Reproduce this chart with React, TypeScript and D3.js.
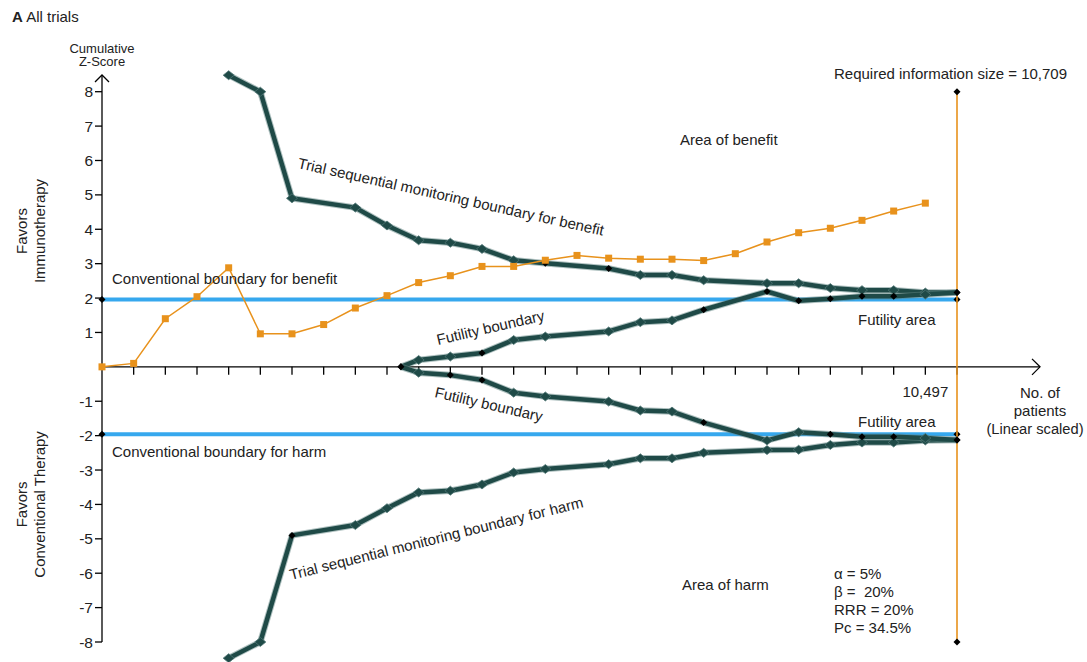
import React from "react";
import * as d3 from "d3";

// ---------- data ----------
const zPositions = [0, 1, 2, 3, 4, 5, 6, 7, 8, 9, 10, 11, 12, 13, 14, 15, 16, 17, 18, 19, 20, 21, 22, 23, 24, 25, 26];
const zValues = [0, 0.1, 1.4, 2.04, 2.88, 0.96, 0.96, 1.23, 1.71, 2.07, 2.45, 2.65, 2.92, 2.92, 3.1, 3.24, 3.16, 3.13, 3.13, 3.09, 3.29, 3.63, 3.9, 4.03, 4.26, 4.53, 4.76];

const boundaryPositions = [4, 5, 6, 8, 9, 10, 11, 12, 13, 14, 16, 17, 18, 19, 21, 22, 23, 24, 25, 26, 27];
const benefitBoundary = [8.48, 8.0, 4.9, 4.63, 4.11, 3.68, 3.61, 3.43, 3.1, 3.01, 2.86, 2.67, 2.67, 2.52, 2.43, 2.43, 2.29, 2.23, 2.23, 2.16, 2.16];
const harmBoundary = [-8.47, -8.0, -4.9, -4.6, -4.11, -3.65, -3.6, -3.42, -3.07, -2.97, -2.83, -2.66, -2.66, -2.5, -2.42, -2.41, -2.27, -2.2, -2.2, -2.14, -2.13];

const futilityPositions = [9.44, 10, 11, 12, 13, 14, 16, 17, 18, 19, 21, 22, 23, 24, 25, 26, 27];
const futilityUpper = [0, 0.2, 0.3, 0.4, 0.78, 0.88, 1.03, 1.3, 1.35, 1.66, 2.19, 1.92, 1.98, 2.05, 2.05, 2.1, 2.16];
const futilityLower = [0, -0.17, -0.24, -0.38, -0.75, -0.86, -1.01, -1.27, -1.3, -1.62, -2.14, -1.9, -1.96, -2.03, -2.03, -2.07, -2.13];

// indices (into each series) drawn with the small black marker
const benefitSmall = [9, 10, 20];
const harmSmall = [2, 20];
const futUpperSmall = [0, 3, 9, 10, 11, 12, 13, 14, 16];
const futLowerSmall = [0, 2, 3, 9, 12, 13, 14, 16];

const conventionalZ = 1.96;
const requiredPosition = 27;
const yTicks = [8, 7, 6, 5, 4, 3, 2, 1, -1, -2, -3, -4, -5, -6, -7, -8];
const xTickPositions = d3.range(1, 28);
const paramLines = ["α = 5%", "β =  20%", "RRR = 20%", "Pc = 34.5%"];

// ---------- layout ----------
const W = 1087;
const H = 662;
const x = d3.scaleLinear().domain([0, 27]).range([102, 957]);
const y = d3.scaleLinear().domain([-8, 8]).range([642, 91.7]);

const DARK = "#1f4a47";
const ORANGE = "#e8921c";
const BLUE = "#36a8ee";
const TEXT = "#222";
const FONT = "'Liberation Sans', Arial, sans-serif";
const FS = 15;

const line = d3.line<[number, number]>().x((d) => x(d[0])).y((d) => y(d[1]));

function zip(p: number[], v: number[]): [number, number][] {
  return p.map((pp, i) => [pp, v[i]]);
}

function diamond(cx: number, cy: number, w: number, h: number) {
  return `M${cx},${cy - h / 2}L${cx + w / 2},${cy}L${cx},${cy + h / 2}L${cx - w / 2},${cy}Z`;
}

function Boundary({ pos, vals, small }: { pos: number[]; vals: number[]; small: number[] }) {
  const pts = zip(pos, vals);
  return (
    <g>
      <path d={line(pts) || ""} fill="none" stroke="#5f8482" strokeOpacity={0.5} strokeWidth={6.5} strokeLinejoin="round" />
      <path d={line(pts) || ""} fill="none" stroke={DARK} strokeWidth={4.5} strokeLinejoin="round" />
      {pts.map((p, i) =>
        small.includes(i) ? (
          <path key={i} d={diamond(x(p[0]), y(p[1]), 7, 7)} fill="#000" />
        ) : (
          <path key={i} d={diamond(x(p[0]), y(p[1]), 11, 9)} fill={DARK} stroke="#4f7573" strokeWidth={0.8} />
        )
      )}
    </g>
  );
}

export default function App() {
  const zPts = zip(zPositions, zValues);
  const x0 = x(0);
  const xEnd = x(requiredPosition);
  const y0 = y(0);
  return (
    <svg width={W} height={H} style={{ position: "absolute", left: 0, top: 0, background: "#fff" }} fontFamily={FONT}>
      {/* title */}
      <text x={12} y={22} fontSize={15} fill={TEXT}>
        <tspan fontWeight="bold">A</tspan> All trials
      </text>

      {/* y axis */}
      <line x1={x0} x2={x0} y1={75} y2={y(-8)} stroke="#000" strokeWidth={1.3} />
      <path d={`M${x0 - 7},${82}L${x0},${75}L${x0 + 7},${82}`} fill="none" stroke="#000" strokeWidth={1.3} />
      {yTicks.map((t) => (
        <g key={t}>
          <line x1={x0 - 7} x2={x0} y1={y(t)} y2={y(t)} stroke="#000" strokeWidth={1.3} />
          <text x={x0 - 9} y={y(t) + 5.5} fontSize={15.5} textAnchor="end" fill={TEXT}>
            {t}
          </text>
        </g>
      ))}
      <text x={x0} y={53} fontSize={13} textAnchor="middle" fill={TEXT}>Cumulative</text>
      <text x={x0} y={66} fontSize={13} textAnchor="middle" fill={TEXT}>Z-Score</text>

      {/* x axis */}
      <line x1={x0} x2={1040} y1={y0} y2={y0} stroke="#000" strokeWidth={1.3} />
      <path d={`M${1032},${y0 - 8}L${1040},${y0}L${1032},${y0 + 8}`} fill="none" stroke="#000" strokeWidth={1.3} />
      {xTickPositions.map((t) => (
        <line key={t} x1={x(t)} x2={x(t)} y1={y0} y2={y0 + 8} stroke="#000" strokeWidth={1.3} />
      ))}
      <text x={x(26)} y={y0 + 30} fontSize={FS} textAnchor="middle" fill={TEXT}>10,497</text>
      <text x={1040} y={y0 + 31} fontSize={FS} textAnchor="middle" fill={TEXT}>No. of</text>
      <text x={1040} y={y0 + 49} fontSize={FS} textAnchor="middle" fill={TEXT}>patients</text>
      <text x={1035} y={y0 + 67} fontSize={14.7} textAnchor="middle" fill={TEXT}>(Linear scaled)</text>

      {/* y titles */}
      <g transform={`translate(27,${y(3.95)}) rotate(-90)`}>
        <text x={0} y={0} fontSize={FS} textAnchor="middle" fill={TEXT}>Favors</text>
        <text x={0} y={18} fontSize={FS} textAnchor="middle" fill={TEXT}>Immunotherapy</text>
      </g>
      <g transform={`translate(27,${y(-4.0)}) rotate(-90)`}>
        <text x={0} y={0} fontSize={FS} textAnchor="middle" fill={TEXT}>Favors</text>
        <text x={0} y={18} fontSize={FS} textAnchor="middle" fill={TEXT}>Conventional Therapy</text>
      </g>

      {/* conventional boundaries */}
      {[conventionalZ, -conventionalZ].map((v) => (
        <g key={v}>
          <line x1={x0} x2={xEnd} y1={y(v)} y2={y(v)} stroke={BLUE} strokeWidth={4} />
          <path d={diamond(x0, y(v), 7, 7)} fill="#000" />
          <path d={diamond(xEnd, y(v), 7, 7)} fill="#000" />
        </g>
      ))}

      {/* required information size */}
      <line x1={xEnd} x2={xEnd} y1={y(8)} y2={y(-8)} stroke={ORANGE} strokeWidth={1.6} />
      <path d={diamond(xEnd, y(8), 7, 7)} fill="#000" />
      <path d={diamond(xEnd, y(-8), 7, 7)} fill="#000" />
      <text x={834} y={79} fontSize={FS} fill={TEXT}>Required information size = 10,709</text>

      {/* boundaries */}
      <Boundary pos={boundaryPositions} vals={benefitBoundary} small={benefitSmall} />
      <Boundary pos={boundaryPositions} vals={harmBoundary} small={harmSmall} />
      <Boundary pos={futilityPositions} vals={futilityUpper} small={futUpperSmall} />
      <Boundary pos={futilityPositions} vals={futilityLower} small={futLowerSmall} />

      {/* cumulative z curve */}
      <path d={line(zPts) || ""} fill="none" stroke={ORANGE} strokeWidth={1.5} />
      {zPts.map((p, i) => (
        <rect key={i} x={x(p[0]) - 3.5} y={y(p[1]) - 3.5} width={7} height={7} fill={ORANGE} />
      ))}

      {/* annotations */}
      <text x={680} y={145} fontSize={FS} fill={TEXT}>Area of benefit</text>
      <text x={682} y={590} fontSize={FS} fill={TEXT}>Area of harm</text>
      <text x={112} y={284} fontSize={FS} fill={TEXT}>Conventional boundary for benefit</text>
      <text x={112} y={457} fontSize={FS} fill={TEXT}>Conventional boundary for harm</text>
      <text x={858} y={325} fontSize={FS} fill={TEXT}>Futility area</text>
      <text x={858} y={427} fontSize={FS} fill={TEXT}>Futility area</text>
      <text transform="translate(297,168) rotate(12.5)" fontSize={FS} fill={TEXT}>
        Trial sequential monitoring boundary for benefit
      </text>
      <text transform="translate(291,580) rotate(-14)" fontSize={FS} fill={TEXT}>
        Trial sequential monitoring boundary for harm
      </text>
      <text transform="translate(438,345) rotate(-13)" fontSize={FS} fill={TEXT}>
        Futility boundary
      </text>
      <text transform="translate(434,397) rotate(13)" fontSize={FS} fill={TEXT}>
        Futility boundary
      </text>
      {paramLines.map((t, i) => (
        <text key={i} x={834} y={579 + i * 18} fontSize={FS} fill={TEXT} style={{ whiteSpace: "pre" }}>
          {t}
        </text>
      ))}
    </svg>
  );
}
